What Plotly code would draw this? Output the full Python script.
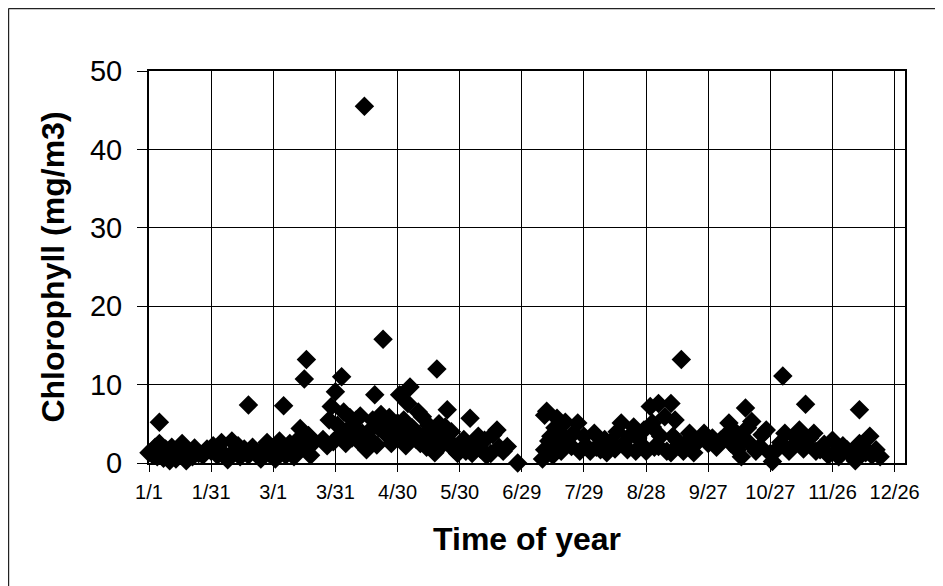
import plotly.graph_objects as go

# Day offset from Jan 1 (0 = 1/1) and chlorophyll concentration (mg/m3)
day_offset = [
    0, 2, 3, 4, 5, 5, 6, 7, 8, 9, 10, 11, 12, 13, 14, 15, 16, 17, 18, 19, 21, 22, 24,
    26, 28, 30, 31, 33, 35, 36, 38, 40, 41, 43, 44, 46, 48, 48, 50, 52, 54, 55, 57, 58,
    60, 61, 62, 63, 65, 65, 66, 68, 69, 70,
    72, 73, 74, 75, 76, 77, 78, 79,
    84, 86, 87, 88, 89, 90, 91, 92, 93, 94, 95, 96, 97, 98, 99, 100, 101, 102, 103,
    104, 105, 106, 107, 108, 109, 110, 111, 112, 113, 114, 115, 116, 117, 118, 119,
    120, 121, 122, 123, 124, 125, 126, 127, 128, 129, 130, 131, 132, 133, 134, 135,
    136, 137, 138, 139, 140, 141, 142, 143, 144, 145, 146, 147, 149, 150, 152, 153,
    155, 156, 157, 159, 160, 162, 163, 165, 166, 168, 169, 171, 173, 178,
    190, 191, 191, 192, 193, 194, 195, 196, 197, 198, 199, 200, 201, 202, 204, 205,
    207, 208, 210, 211, 213, 215, 216, 218, 220, 221, 223, 225, 226, 228, 229, 231,
    232, 234, 235, 236, 238, 239, 240, 242, 243, 243, 244, 246, 246, 247, 249, 250,
    252, 252, 253, 254, 255, 256, 257, 258, 260, 261, 263, 264, 266, 268, 270, 272,
    274, 276, 278, 280, 281, 283, 284, 286, 287, 288, 289, 290, 291, 293, 295, 296,
    298, 300, 301, 303, 305, 306, 307, 309, 311, 313, 314, 316, 317, 317, 319, 321,
    322, 324, 326, 328, 330, 332, 333, 335, 337, 339, 341, 342, 343, 343, 345, 346,
    348, 349, 351, 353,
]
chlorophyll = [
    1.3, 1.0, 2.0, 0.8, 5.2, 2.5, 1.5, 0.6, 1.8, 1.2, 0.3, 2.0, 1.0, 0.5, 1.6, 1.0, 2.5, 1.2, 0.3, 1.5, 0.8, 1.9, 1.2,
    1.0, 1.8, 1.5, 2.2, 1.0, 2.6, 1.2, 0.4, 2.8, 1.5, 2.2, 0.8, 1.8, 7.4, 1.0, 2.0, 1.2, 0.5, 1.8, 2.6, 1.2,
    2.0, 0.5, 1.4, 2.8, 7.3, 1.8, 1.0, 2.5, 1.2, 0.8,
    3.0, 4.4, 2.0, 10.7, 13.2, 3.5, 1.0, 2.5,
    3.0, 2.2, 5.5, 7.2, 2.7, 9.1, 4.8, 3.5, 11.0, 6.5, 2.5, 4.2, 5.8, 3.2, 4.5, 5.5, 2.8, 6.0, 3.8,
    45.5, 1.7, 4.0, 3.0, 5.5, 8.7, 2.3, 4.5, 6.2, 15.8, 4.9, 3.5, 5.8, 2.5, 4.2, 3.8,
    5.1, 8.7, 3.5, 5.5, 2.2, 7.6, 9.7, 4.5, 4.2, 3.0, 6.5, 2.5, 5.9, 3.5, 2.0, 4.8,
    4.2, 3.0, 1.3, 12.0, 5.0, 2.2, 3.8, 4.6, 6.8, 2.8, 4.0, 1.8, 1.2, 2.1, 3.0, 1.5,
    5.7, 1.2, 2.4, 3.4, 1.8, 2.9, 1.0, 1.2, 3.6, 4.2, 2.0, 1.5, 2.1, 0.0,
    0.5, 1.7, 6.1, 6.6, 2.8, 3.4, 1.0, 4.5, 5.7, 2.2, 1.5, 3.4, 5.2, 2.5, 2.1, 3.8,
    5.1, 1.5, 3.4, 2.2, 1.5, 3.8, 2.0, 1.7, 3.0, 1.3, 2.7, 1.8, 4.0, 5.1, 2.4, 1.7,
    3.4, 4.6, 1.5, 3.2, 2.3, 4.2, 1.5, 7.2, 5.1, 4.6, 2.0, 7.6, 2.1, 3.4, 5.9, 1.5,
    7.6, 1.3, 3.4, 5.5, 2.8, 2.1, 13.2, 1.5, 2.8, 3.8, 1.3, 2.5, 3.0, 3.8, 2.5, 3.2,
    2.0, 2.9, 3.4, 5.1, 2.5, 4.0, 1.7, 0.8, 3.0, 7.0, 4.5, 2.5, 5.3, 1.5, 2.1, 3.6,
    4.2, 1.2, 0.2, 1.7, 2.6, 11.1, 3.8, 1.5, 2.1, 3.0, 4.2, 1.8, 7.5, 2.5, 3.2, 3.8,
    1.5, 1.7, 2.4, 1.0, 2.9, 1.5, 0.8, 2.2, 1.7, 1.0, 0.3, 1.5, 6.8, 2.5, 2.0, 1.3,
    3.4, 1.0, 1.7, 0.8,
]

tick_days = [0, 30, 60, 90, 120, 150, 180, 210, 240, 270, 300, 330, 360]
tick_labels = ["1/1", "1/31", "3/1", "3/31", "4/30", "5/30", "6/29",
               "7/29", "8/28", "9/27", "10/27", "11/26", "12/26"]

FONT = "Liberation Sans, Arial, sans-serif"

fig = go.Figure()
fig.add_trace(go.Scatter(
    x=day_offset, y=chlorophyll, mode="markers",
    marker=dict(symbol="diamond", size=15, color="black", line=dict(width=0)),
    cliponaxis=False, showlegend=False,
))

fig.update_layout(
    width=935, height=578,
    margin=dict(l=141, r=38, t=63, b=123),
    paper_bgcolor="white", plot_bgcolor="white",
    font=dict(family=FONT, color="black"),
    xaxis=dict(
        range=[0, 365], tickvals=tick_days, ticktext=tick_labels,
        tickfont=dict(size=20, family=FONT),
        ticks="outside", ticklen=7, tickcolor="black", tickwidth=1,
        ticklabelstandoff=3,
        showgrid=True, gridcolor="black", gridwidth=1,
        showline=True, linecolor="black", linewidth=2, mirror=True,
        zeroline=False,
        title=dict(text="<b>Time of year</b>", font=dict(size=32, family=FONT), standoff=26),
    ),
    yaxis=dict(
        range=[0, 50], tickvals=[0, 10, 20, 30, 40, 50],
        tickfont=dict(size=29, family=FONT),
        ticks="outside", ticklen=10, tickcolor="black", tickwidth=1,
        ticklabelstandoff=9,
        showgrid=True, gridcolor="black", gridwidth=1,
        showline=True, linecolor="black", linewidth=2, mirror=True,
        zeroline=False,
        title=dict(text="<b>Chlorophyll (mg/m3)</b>", font=dict(size=32, family=FONT), standoff=16),
    ),
    shapes=[
        dict(type="line", xref="paper", yref="paper", x0=-0.1859, x1=1.2, y0=1.1594, y1=1.1594,
             line=dict(color="#222", width=1.5)),
        dict(type="line", xref="paper", yref="paper", x0=-0.1859, x1=-0.1859, y0=1.1594, y1=-0.4,
             line=dict(color="#222", width=1.5)),
    ],
)

fig.write_html("out.html")
